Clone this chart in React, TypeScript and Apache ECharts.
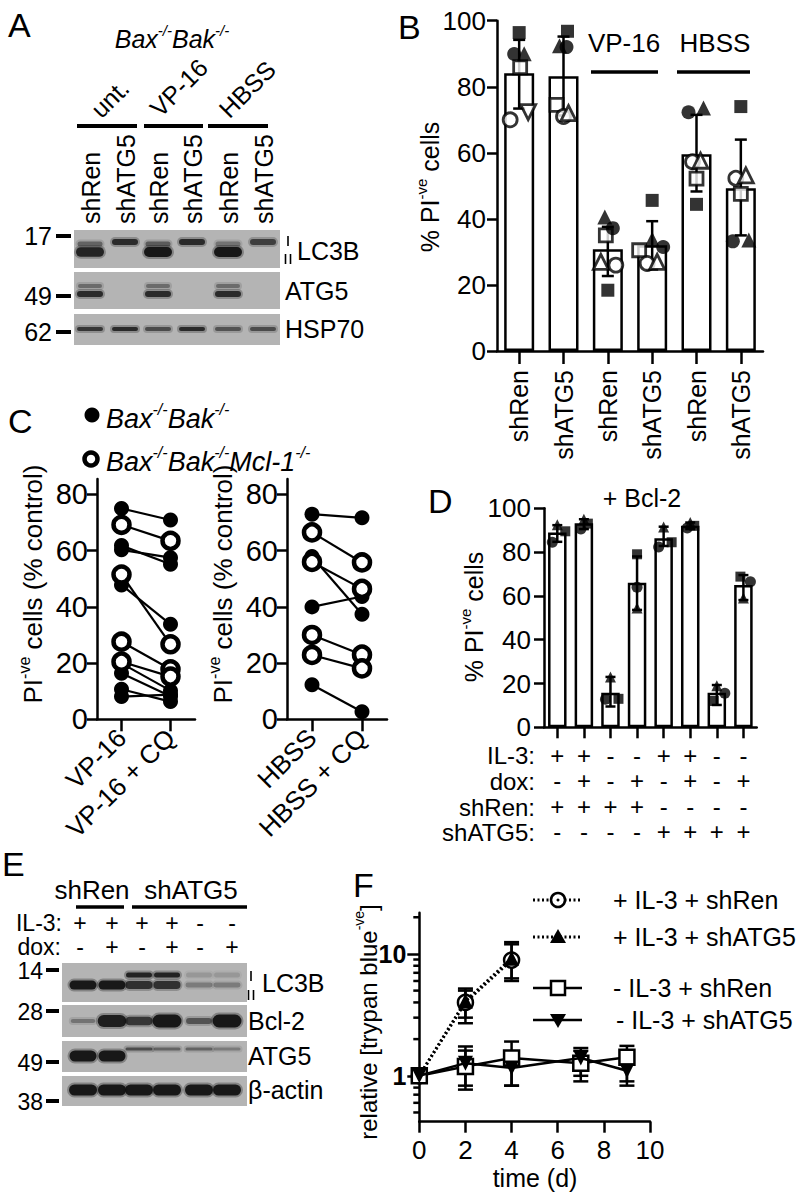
import React, { useEffect, useRef } from "react";
import * as echarts from "echarts";

const FONT = '"Liberation Sans", Arial, Helvetica, sans-serif';
const BLACK = "#000";

// ---------- Panel A (blot) ----------
const aLaneLabels = ["shRen", "shATG5", "shRen", "shATG5", "shRen", "shATG5"];
const aGroupLabels = ["unt.", "VP-16", "HBSS"];
const aLC3BII = [0.9, 0, 1.0, 0, 1.0, 0];
const aLC3BI = [0.45, 0.85, 0.5, 0.85, 0.35, 0.7];
const aATG5 = [0.85, 0, 0.85, 0, 0.85, 0];
const aATG5Upper = [0.4, 0, 0.4, 0, 0.4, 0];
const aHSP70 = [0.75, 0.85, 0.6, 0.85, 0.55, 0.6];
const aMarkers = ["17", "49", "62"];

// ---------- Panel B ----------
const bCategories = ["shRen", "shATG5", "shRen", "shATG5", "shRen", "shATG5"];
const bMean = [84.1, 83.2, 30.8, 32.0, 59.6, 49.3];
const bErrHigh = [94.2, 95.2, 37.6, 39.3, 71.5, 64.0];
const bErrLow = [73.4, 71.3, 22.7, 24.7, 48.3, 35.0];
const bFilledSquare = [96.4, 96.8, 18.4, 45.6, 44.4, 74.0];
const bFilledCircle = [89.9, 92.0, 37.2, 31.5, 72.3, 33.2];
const bFilledTriangle = [90.0, 92.4, 40.6, 33.8, 73.6, 33.6];
const bOpenSquare = [85.9, 74.5, 35.0, 30.5, 52.2, 47.6];
const bOpenCircle = [70.0, 71.0, 26.0, 26.5, 57.3, 52.3];
const bOpenTriangle = [72.3, 72.0, 27.0, 27.0, 57.6, 53.2];
const bJitFilledSquare = [0, 4, 0, 0, 0, 0];
const bJitFilledCircle = [-5, 3, 5, 11, -8, -8];
const bJitFilledTriangle = [5, -4, -3, 0, 7, 8];
const bJitOpenSquare = [1, -7, -2, -13, 0, 0];
const bJitOpenCircle = [-9, 0, 8, -5, -4, -5];
const bJitOpenTriangle = [9, 5, -7, 5, 4, 5];
const bGroupLabels = ["VP-16", "HBSS"];

// ---------- Panel C ----------
const cCatsLeft = ["VP-16", "VP-16 + CQ"];
const cCatsRight = ["HBSS", "HBSS + CQ"];
const cVP16 = [75.0, 69.2, 61.8, 60.3, 51.5, 47.8, 27.6, 20.5, 19.9, 16.4, 10.7, 8.1];
const cVP16CQ = [70.9, 63.5, 55.2, 57.5, 26.7, 33.8, 17.8, 15.2, 10.2, 8.2, 6.3, 8.8];
const cVP16Mcl1 = [false, true, false, false, true, false, true, true, false, false, false, false];
const cHBSS = [73.0, 66.5, 57.9, 56.0, 40.0, 30.0, 22.9, 12.3];
const cHBSSCQ = [71.7, 55.8, 37.4, 46.4, 43.7, 23.0, 18.1, 2.7];
const cHBSSMcl1 = [false, true, false, true, false, true, true, false];
const cTicks = [0, 20, 40, 60, 80];

// ---------- Panel D ----------
const dCategories = ["1", "2", "3", "4", "5", "6", "7", "8"];
const dMean = [89.0, 93.2, 15.8, 66.0, 86.3, 92.0, 15.8, 65.0];
const dErrHigh = [92.3, 95.0, 23.0, 78.0, 91.6, 93.5, 19.3, 69.5];
const dErrLow = [84.7, 90.5, 9.5, 53.6, 82.8, 90.5, 10.2, 58.1];
const dTriangle = [92.5, 95.0, 23.0, 54.5, 91.5, 93.5, 19.0, 59.0];
const dCircle = [84.5, 90.5, 12.8, 64.0, 82.3, 91.0, 15.5, 66.5];
const dSquare = [89.5, 93.0, 13.0, 79.0, 84.5, 92.0, 12.0, 68.8];
const dJitTriangle = [0, 0, 0, 0, 0, 0, 0, 0];
const dJitCircle = [-5, -3, -5, 0, -5, -3, 8, 7];
const dJitSquare = [8, 4, 8, 0, 8, 4, -3, -3];
const dIL3 = ["+", "+", "-", "-", "+", "+", "-", "-"];
const dDox = ["-", "+", "-", "+", "-", "+", "-", "+"];
const dShRen = ["+", "+", "+", "+", "-", "-", "-", "-"];
const dShATG5 = ["-", "-", "-", "-", "+", "+", "+", "+"];
const dRowLabels = ["IL-3:", "dox:", "shRen:", "shATG5:"];

// ---------- Panel E (blot) ----------
const eIL3 = ["+", "+", "+", "+", "-", "-"];
const eDox = ["-", "+", "-", "+", "-", "+"];
const eLC3BII = [1.0, 1.0, 0.8, 0.8, 0.3, 0.3];
const eLC3BI = [0, 0, 0.9, 0.9, 0.15, 0.15];
const eBcl2 = [0.35, 0.95, 0.75, 1.0, 0.55, 1.0];
const eATG5 = [1.0, 1.0, 0.6, 0.45, 0.45, 0.3];
const eActin = [1, 1, 1, 1, 1, 1];
const eMarkers = ["14", "28", "49", "38"];

// ---------- Panel F ----------
const fDaysPlus = [0, 2, 4];
const fDaysMinus = [0, 2, 4, 7, 9];
const fPlusShRen = [1, 4.0, 8.9];
const fPlusShRenHi = [1, 5.2, 12.5];
const fPlusShRenLo = [1, 2.7, 6.0];
const fPlusShATG5 = [1, 4.1, 9.2];
const fPlusShATG5Hi = [1, 5.0, 12.0];
const fPlusShATG5Lo = [1, 3.0, 6.3];
const fMinusShRen = [1, 1.19, 1.4, 1.27, 1.42];
const fMinusShRenHi = [1, 1.74, 1.91, 1.69, 1.76];
const fMinusShRenLo = [1, 0.77, 0.83, 0.9, 0.9];
const fMinusShATG5 = [1, 1.27, 1.16, 1.4, 1.1];
const fMinusShATG5Hi = [1, 1.61, 1.53, 1.6, 1.53];
const fMinusShATG5Lo = [1, 0.83, 0.83, 1.0, 0.83];
const fMinorTicks = [0.5, 0.6, 0.7, 0.8, 0.9, 2, 3, 4, 5, 6, 7, 8, 9, 20];
const fLegend = ["+ IL-3 + shRen", "+ IL-3 + shATG5", "- IL-3 + shRen", "- IL-3 + shATG5"];

function errorBars(capHalf: number, width: number) {
  return function (_p: any, api: any) {
    const x = api.value(0);
    const lo = api.value(1);
    const hi = api.value(2);
    if (lo === hi) return { type: "group", children: [] };
    const a = api.coord([x, hi]);
    const b = api.coord([x, lo]);
    const st = { stroke: BLACK, lineWidth: width };
    return {
      type: "group",
      children: [
        { type: "line", shape: { x1: a[0], y1: a[1], x2: b[0], y2: b[1] }, style: st },
        { type: "line", shape: { x1: a[0] - capHalf, y1: a[1], x2: a[0] + capHalf, y2: a[1] }, style: st },
        { type: "line", shape: { x1: b[0] - capHalf, y1: b[1], x2: b[0] + capHalf, y2: b[1] }, style: st },
      ],
    };
  };
}

function supRich(size: number, italic = false) {
  const fs = italic ? "italic" : "normal";
  return {
    n: { fontSize: size, fontFamily: FONT, fontStyle: fs, fill: BLACK, lineHeight: Math.round(size * 1.15), verticalAlign: "bottom" },
    s: { fontSize: Math.round(size * 0.6), fontFamily: FONT, fontStyle: fs, fill: BLACK, lineHeight: Math.round(size * 0.8), verticalAlign: "top" },
  };
}
function supText(parts: [string, number][]) {
  return parts.map(([t, s]) => `{${s ? "s" : "n"}|${t}}`).join("");
}

function buildOption() {
  const g: any[] = [];
  const T = (x: number, y: number, text: string, size: number, o: any = {}) =>
    g.push({
      type: "text",
      x,
      y,
      rotation: o.rot || 0,
      silent: true,
      style: {
        text,
        fontSize: size,
        fontFamily: FONT,
        fontStyle: o.italic ? "italic" : "normal",
        fontWeight: o.bold ? "bold" : "normal",
        fill: BLACK,
        align: o.align || "left",
        verticalAlign: o.va || "middle",
        rich: o.rich,
      },
    });
  const L = (x1: number, y1: number, x2: number, y2: number, w = 2.5, dash?: number[]) =>
    g.push({ type: "line", silent: true, shape: { x1, y1, x2, y2 }, style: { stroke: BLACK, lineWidth: w, lineDash: dash } });
  const strip = (x: number, y: number, w: number, h: number) =>
    g.push({ type: "rect", silent: true, shape: { x, y, width: w, height: h }, style: { fill: "#b4b4b4" } });
  const band = (cx: number, cy: number, w: number, h: number, a: number) => {
    if (a <= 0) return;
    g.push({
      type: "rect",
      silent: true,
      shape: { x: cx - w / 2 - 2, y: cy - h / 2 - 2, width: w + 4, height: h + 4, r: h / 2 + 2 },
      style: { fill: `rgba(20,20,20,${a * 0.3})` },
    });
    g.push({
      type: "rect",
      silent: true,
      shape: { x: cx - w / 2, y: cy - h / 2, width: w, height: h, r: h / 2 },
      style: { fill: `rgba(15,15,15,${a * 0.92})` },
    });
  };
  const marks = (x: number, yI: number, yII: number) => {
    L(x, yI - 5, x, yI + 5, 1.6);
    L(x - 2.5, yII - 5, x - 2.5, yII + 5, 1.6);
    L(x + 2.5, yII - 5, x + 2.5, yII + 5, 1.6);
  };

  // ---- panel letters
  T(8, 25, "A", 34);
  T(398, 27, "B", 34);
  T(8, 421, "C", 34);
  T(428, 501, "D", 34);
  T(2, 864, "E", 34);
  T(353, 885, "F", 34);

  // ---- Panel A
  T(172, 37, supText([["Bax", 0], ["-/-", 1], ["Bak", 0], ["-/-", 1]]), 25, { align: "center", rich: supRich(25, true) });
  const aGroupAnchors = [[104, 122], [163, 121], [232, 122]];
  aGroupLabels.forEach((t, i) => T(aGroupAnchors[i][0], aGroupAnchors[i][1], t, 25, { rot: Math.PI / 4, va: "bottom" }));
  L(77, 126, 137, 126, 4);
  L(144, 126, 203, 126, 4);
  L(208, 126, 268, 126, 4);
  const aLaneX = [90, 125, 158, 192, 228, 263];
  aLaneLabels.forEach((t, i) => T(aLaneX[i] + 1, 224, t, 25, { rot: Math.PI / 2, align: "left" }));
  strip(74, 230, 206, 38);
  strip(74, 272, 206, 37);
  strip(74, 314, 206, 31);
  aLaneX.forEach((x, i) => {
    band(x, 244, 25, 5, aLC3BI[i] * (aLC3BII[i] ? 1 : 0));
    band(x, 242, 26, 6, aLC3BII[i] ? 0 : aLC3BI[i]);
    band(x, 252, 28, 7 + aLC3BII[i] * 3, aLC3BII[i]);
    band(x, 286, 24, 4, aATG5Upper[i]);
    band(x, 294, 26, 6, aATG5[i]);
    band(x, 329, 26, 4, aHSP70[i]);
  });
  const aMarkerY = [236, 296, 332];
  aMarkers.forEach((m, i) => {
    T(52, aMarkerY[i], m, 25, { align: "right" });
    L(56, aMarkerY[i], 71, aMarkerY[i], 4);
  });
  marks(288, 241, 259);
  T(297, 251, "LC3B", 25);
  T(285, 291, "ATG5", 25);
  T(285, 329, "HSP70", 25);

  // ---- Panel B annotations
  T(428, 187, supText([["% PI", 0], ["-ve", 1], [" cells", 0]]), 25, { rot: Math.PI / 2, align: "center", rich: supRich(25) });
  T(624, 43, bGroupLabels[0], 26, { align: "center" });
  L(591, 72, 658, 72, 3.5);
  T(715, 43, bGroupLabels[1], 26, { align: "center" });
  L(677, 72, 750, 72, 3.5);

  // ---- Panel C annotations
  g.push({ type: "circle", silent: true, shape: { cx: 92, cy: 415, r: 7.5 }, style: { fill: BLACK } });
  T(106, 417, supText([["Bax", 0], ["-/-", 1], ["Bak", 0], ["-/-", 1]]), 27, { rich: supRich(27, true) });
  g.push({ type: "circle", silent: true, shape: { cx: 91, cy: 459, r: 6.5 }, style: { fill: "#fff", stroke: BLACK, lineWidth: 4.5 } });
  T(106, 460, supText([["Bax", 0], ["-/-", 1], ["Bak", 0], ["-/-", 1], ["Mcl-1", 0], ["-/-", 1]]), 27, { rich: supRich(27, true) });
  T(31, 584, supText([["PI", 0], ["-ve", 1], [" cells (% control)", 0]]), 26, { rot: Math.PI / 2, align: "center", rich: supRich(26) });
  T(221, 584, supText([["PI", 0], ["-ve", 1], [" cells (% control)", 0]]), 26, { rot: Math.PI / 2, align: "center", rich: supRich(26) });

  // ---- Panel D annotations
  T(642, 498, "+ Bcl-2", 25, { align: "center" });
  T(472, 617, supText([["% PI", 0], ["-ve", 1], [" cells", 0]]), 25, { rot: Math.PI / 2, align: "center", rich: supRich(25) });
  const dRowY = [755, 781, 807, 832];
  dRowLabels.forEach((t, i) => T(535, dRowY[i], t, 24, { align: "right" }));

  // ---- Panel E
  T(92, 890, "shRen", 26, { align: "center" });
  T(191, 890, "shATG5", 26, { align: "center" });
  L(76, 907, 124, 907, 3.5);
  L(132, 907, 247, 907, 3.5);
  T(62, 923, "IL-3:", 23, { align: "right" });
  T(61, 947, "dox:", 23, { align: "right" });
  const eSymX = [80, 112, 142, 172, 200, 232];
  eIL3.forEach((s, i) => T(eSymX[i], 923, s, 23, { align: "center" }));
  eDox.forEach((s, i) => T(eSymX[i], 947, s, 23, { align: "center" }));
  strip(62, 963, 185, 39);
  strip(62, 1005, 185, 32);
  strip(62, 1041, 185, 31);
  strip(62, 1076, 185, 30);
  const eLaneX = [83, 112, 139, 167, 199, 227];
  eLaneX.forEach((x, i) => {
    band(x, 975, 26, 5, eLC3BI[i]);
    band(x, 985, 27, 3 + eLC3BII[i] * 6, eLC3BII[i]);
    band(x, 1021, 22 + eBcl2[i] * 7, 3 + eBcl2[i] * eBcl2[i] * 10, eBcl2[i]);
    band(x, eATG5[i] > 0.9 ? 1056 : 1049, 27, eATG5[i] > 0.9 ? 11 : 3, eATG5[i]);
    band(x, 1090, 28, 11, eActin[i]);
  });
  const eMarkerY = [971, 1012, 1063, 1102];
  eMarkers.forEach((m, i) => {
    T(43, eMarkerY[i], m, 23, { align: "right" });
    L(46, eMarkerY[i] - 1, 59, eMarkerY[i] - 1, 4);
  });
  marks(251, 976, 995);
  T(262, 983, "LC3B", 25);
  T(248, 1021, "Bcl-2", 25);
  T(248, 1056, "ATG5", 25);
  T(248, 1090, "\u03b2-actin", 25);

  // ---- Panel F annotations
  T(366, 1022, supText([["relative [trypan blue", 0], ["-ve", 1], ["]", 0]]), 24, { rot: Math.PI / 2, align: "center", rich: supRich(24) });
  T(535, 1178, "time (d)", 25, { align: "center" });
  const legY = [900, 937, 988, 1020];
  L(533, legY[0], 582, legY[0], 3, [2, 2.5]);
  L(533, legY[1], 582, legY[1], 3, [2, 2.5]);
  L(533, legY[2], 582, legY[2], 2.5);
  L(533, legY[3], 582, legY[3], 2.5);
  g.push({ type: "circle", silent: true, shape: { cx: 558, cy: legY[0], r: 7 }, style: { fill: "#fff", stroke: BLACK, lineWidth: 2.5 } });
  g.push({ type: "circle", silent: true, shape: { cx: 558, cy: legY[0], r: 1.5 }, style: { fill: BLACK } });
  g.push({ type: "polygon", silent: true, shape: { points: [[558, legY[1] - 8], [566, legY[1] + 6], [550, legY[1] + 6]] }, style: { fill: BLACK } });
  g.push({ type: "rect", silent: true, shape: { x: 551, y: legY[2] - 7, width: 14, height: 14 }, style: { fill: "#fff", stroke: BLACK, lineWidth: 2.5 } });
  g.push({ type: "polygon", silent: true, shape: { points: [[558, legY[3] + 8], [566, legY[3] - 6], [550, legY[3] - 6]] }, style: { fill: BLACK } });
  T(613, legY[0], fLegend[0], 25);
  T(613, legY[1], fLegend[1], 25);
  T(613, legY[2], fLegend[2], 25);
  T(616, legY[3], fLegend[3], 25);

  // ---------- axes ----------
  const axisLine = { show: true, onZero: false, lineStyle: { color: BLACK, width: 2.5 } };
  const tick = (len: number, align = true) => ({ show: true, inside: false, length: len, alignWithLabel: align, lineStyle: { color: BLACK, width: 2.5 } });
  const lab = (size: number, margin: number, extra: any = {}) => ({ show: true, color: BLACK, fontSize: size, fontFamily: FONT, margin, ...extra });

  const grids = [
    { left: 497, top: 20.7, width: 266, height: 330.3 },
    { left: 97, top: 479, width: 98, height: 240.3 },
    { left: 287, top: 479, width: 100, height: 240.3 },
    { left: 544, top: 508.3, width: 212.7, height: 219 },
    { left: 419.3, top: 912.7, width: 230.7, height: 209 },
  ].map((gr) => ({ ...gr, containLabel: false, outerBoundsMode: "none", show: false }));

  const xAxis: any[] = [
    { gridIndex: 0, type: "category", data: bCategories, axisLine, axisTick: tick(13), axisLabel: lab(25, 19, { rotate: 90 }), splitLine: { show: false } },
    { gridIndex: 1, type: "category", data: cCatsLeft, axisLine, axisTick: tick(12), axisLabel: lab(26, 14, { rotate: 45 }), splitLine: { show: false } },
    { gridIndex: 2, type: "category", data: cCatsRight, axisLine, axisTick: tick(12), axisLabel: lab(26, 14, { rotate: 45 }), splitLine: { show: false } },
    {
      gridIndex: 3,
      type: "category",
      data: dCategories,
      axisLine,
      axisTick: tick(11),
      axisLabel: lab(24, 15, {
        lineHeight: 25.6,
        interval: 0,
        formatter: (_v: string, i: number) => [dIL3[i], dDox[i], dShRen[i], dShATG5[i]].join("\n"),
      }),
      splitLine: { show: false },
    },
    { gridIndex: 4, type: "value", min: 0, max: 10, interval: 2, axisLine, axisTick: tick(11), axisLabel: lab(26, 15), splitLine: { show: false } },
  ];
  const yAxis: any[] = [
    { gridIndex: 0, type: "value", min: 0, max: 100, interval: 20, axisLine, axisTick: tick(10), axisLabel: lab(26, 11), splitLine: { show: false } },
    { gridIndex: 1, type: "value", min: 0, max: 85.5, interval: 20, axisLine, axisTick: tick(10), axisLabel: lab(29, 9, { showMaxLabel: false, formatter: (v: number) => (cTicks.includes(v) ? String(v) : "") }), splitLine: { show: false } },
    { gridIndex: 2, type: "value", min: 0, max: 85.5, interval: 20, axisLine, axisTick: tick(10), axisLabel: lab(29, 9, { showMaxLabel: false, formatter: (v: number) => (cTicks.includes(v) ? String(v) : "") }), splitLine: { show: false } },
    { gridIndex: 3, type: "value", min: 0, max: 100, interval: 20, axisLine, axisTick: tick(10), axisLabel: lab(26, 13), splitLine: { show: false } },
    {
      gridIndex: 4,
      type: "log",
      logBase: 10,
      min: 0.42,
      max: 21.8,
      axisLine,
      axisTick: tick(12),
      axisLabel: lab(25, 13, {
        fontWeight: "bold",
        showMinLabel: false,
        showMaxLabel: false,
        formatter: (v: number) => (Math.abs(v - 1) < 1e-6 ? "1" : Math.abs(v - 10) < 1e-6 ? "10" : ""),
      }),
      splitLine: { show: false },
    },
  ];

  const series: any[] = [];
  const openStyle = (w = 2.5) => ({ color: "#fff", borderColor: BLACK, borderWidth: w });
  const fillStyle = { color: BLACK, borderWidth: 0 };

  // ---- B
  series.push({ type: "bar", xAxisIndex: 0, yAxisIndex: 0, data: bMean, barWidth: 30, silent: true, z: 2, itemStyle: { color: "#fff", borderColor: BLACK, borderWidth: 2.5 } });
  series.push({ type: "custom", xAxisIndex: 0, yAxisIndex: 0, z: 3, silent: true, clip: false, encode: { x: 0, y: [1, 2] }, data: bMean.map((_m, i) => [i, bErrLow[i], bErrHigh[i]]), renderItem: errorBars(6, 2.5) });
  const bShapes = [
    { vals: bOpenSquare, jit: bJitOpenSquare, symbol: "rect", open: true, size: 13 },
    { vals: bOpenCircle, jit: bJitOpenCircle, symbol: "circle", open: true, size: 14 },
    { vals: bOpenTriangle, jit: bJitOpenTriangle, symbol: "triangle", open: true, size: 15, rot: [180, 0, 0, 0, 0, 0] },
    { vals: bFilledSquare, jit: bJitFilledSquare, symbol: "rect", open: false, size: 13 },
    { vals: bFilledCircle, jit: bJitFilledCircle, symbol: "circle", open: false, size: 14 },
    { vals: bFilledTriangle, jit: bJitFilledTriangle, symbol: "triangle", open: false, size: 15 },
  ];
  bShapes.forEach((s) =>
    series.push({
      type: "scatter",
      xAxisIndex: 0,
      yAxisIndex: 0,
      z: 4,
      silent: true,
      symbol: s.symbol,
      symbolSize: s.size,
      itemStyle: s.open ? openStyle(2.8) : fillStyle,
      data: s.vals.map((v, i) => ({ value: [i, v], symbolOffset: [s.jit[i], 0], symbolRotate: s.rot ? s.rot[i] : 0 })),
    })
  );

  // ---- C
  const cPairs = (a: number[], b: number[], open: boolean[], xi: number) =>
    a.forEach((v, i) =>
      series.push({
        type: "line",
        xAxisIndex: xi,
        yAxisIndex: xi,
        data: [v, b[i]],
        silent: true,
        z: open[i] ? 5 : 4,
        symbol: "circle",
        symbolSize: open[i] ? 16 : 15,
        showSymbol: true,
        lineStyle: { color: BLACK, width: 2.2 },
        itemStyle: open[i] ? openStyle(4.5) : fillStyle,
      })
    );
  cPairs(cVP16, cVP16CQ, cVP16Mcl1, 1);
  cPairs(cHBSS, cHBSSCQ, cHBSSMcl1, 2);

  // ---- D
  series.push({ type: "bar", xAxisIndex: 3, yAxisIndex: 3, data: dMean, barWidth: 18.5, silent: true, z: 2, itemStyle: { color: "#fff", borderColor: BLACK, borderWidth: 2.5 } });
  series.push({ type: "custom", xAxisIndex: 3, yAxisIndex: 3, z: 3, silent: true, clip: false, encode: { x: 0, y: [1, 2] }, data: dMean.map((_m, i) => [i, dErrLow[i], dErrHigh[i]]), renderItem: errorBars(5, 2.5) });
  const dShapes = [
    { vals: dSquare, jit: dJitSquare, symbol: "rect", size: 10 },
    { vals: dCircle, jit: dJitCircle, symbol: "circle", size: 11 },
    { vals: dTriangle, jit: dJitTriangle, symbol: "triangle", size: 11 },
  ];
  dShapes.forEach((s) =>
    series.push({
      type: "scatter",
      xAxisIndex: 3,
      yAxisIndex: 3,
      z: 4,
      silent: true,
      symbol: s.symbol,
      symbolSize: s.size,
      itemStyle: fillStyle,
      data: s.vals.map((v, i) => ({ value: [i, v], symbolOffset: [s.jit[i], 0] })),
    })
  );

  // ---- F
  series.push({
    type: "custom",
    xAxisIndex: 4,
    yAxisIndex: 4,
    silent: true,
    clip: false,
    z: 2,
    data: fMinorTicks.map((v) => [0, v]),
    renderItem: (_p: any, api: any) => {
      const c = api.coord([0, api.value(1)]);
      return { type: "line", shape: { x1: c[0] - 6, y1: c[1], x2: c[0], y2: c[1] }, style: { stroke: BLACK, lineWidth: 2.5 } };
    },
  });
  const fErr = (days: number[], lo: number[], hi: number[]) =>
    series.push({ type: "custom", xAxisIndex: 4, yAxisIndex: 4, z: 2, silent: true, clip: false, encode: { x: 0, y: [1, 2] }, data: days.map((d, i) => [d, lo[i], hi[i]]), renderItem: errorBars(7.5, 2.5) });
  fErr(fDaysPlus, fPlusShRenLo, fPlusShRenHi);
  fErr(fDaysPlus, fPlusShATG5Lo, fPlusShATG5Hi);
  fErr(fDaysMinus, fMinusShRenLo, fMinusShRenHi);
  fErr(fDaysMinus, fMinusShATG5Lo, fMinusShATG5Hi);
  const fLine = (name: string, days: number[], vals: number[], symbol: string, open: boolean, dotted: boolean, z: number, rot = 0) =>
    series.push({
      type: "line",
      name,
      xAxisIndex: 4,
      yAxisIndex: 4,
      silent: true,
      z,
      data: days.map((d, i) => [d, vals[i]]),
      symbol,
      symbolSize: 15,
      symbolRotate: rot,
      showSymbol: true,
      lineStyle: { color: BLACK, width: dotted ? 3 : 2.5, type: dotted ? [2, 2.5] : "solid" },
      itemStyle: open ? openStyle(2.5) : fillStyle,
    });
  fLine(fLegend[0], fDaysPlus, fPlusShRen, "circle", true, true, 3);
  fLine(fLegend[1], fDaysPlus, fPlusShATG5, "triangle", false, true, 4);
  fLine(fLegend[2], fDaysMinus, fMinusShRen, "rect", true, false, 5);
  fLine(fLegend[3], fDaysMinus, fMinusShATG5, "triangle", false, false, 6, 180);

  return {
    animation: false,
    backgroundColor: "#fff",
    textStyle: { fontFamily: FONT },
    grid: grids,
    xAxis,
    yAxis,
    series,
    graphic: { elements: g },
  };
}

export default function App() {
  const ref = useRef<HTMLDivElement>(null);
  useEffect(() => {
    if (!ref.current) return;
    const chart = echarts.init(ref.current, null, { renderer: "svg", width: 796, height: 1196 });
    chart.setOption(buildOption() as any);
    return () => chart.dispose();
  }, []);
  return <div ref={ref} style={{ position: "absolute", left: 0, top: 0, width: 796, height: 1196, background: "#fff" }} />;
}
